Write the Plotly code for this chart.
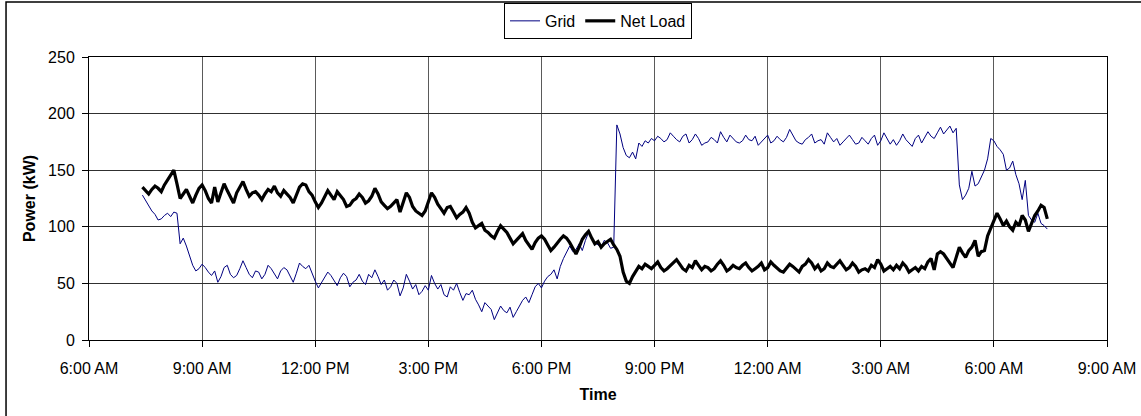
import pandas as pd
import plotly.graph_objects as go

# 5-minute readings, 7:25 AM through 7:15 AM the following morning
start_time = "2007-08-14 07:25"
interval = "5min"

grid_kw = [
    128, 123, 119, 114, 111, 106, 107, 110, 112, 109, 113, 112, 85, 90, 83, 74, 66, 61, 63, 67,
    64, 60, 57, 61, 51, 56, 64, 66, 58, 55, 57, 63, 70, 64, 58, 55, 61, 60, 54, 58,
    66, 63, 58, 54, 61, 64, 62, 57, 51, 59, 68, 65, 63, 66, 58, 52, 46, 51, 55, 60,
    57, 53, 48, 55, 59, 56, 47, 51, 53, 58, 52, 49, 58, 55, 62, 56, 49, 53, 44, 47,
    53, 50, 39, 46, 58, 52, 45, 49, 40, 43, 48, 44, 57, 50, 45, 49, 40, 38, 47, 44,
    50, 42, 35, 41, 40, 44, 36, 31, 25, 33, 30, 27, 18, 24, 30, 26, 24, 29, 20, 25,
    30, 35, 38, 33, 40, 47, 50, 46, 52, 56, 58, 62, 54, 65, 72, 77, 83, 78, 80, 85,
    79, 88, 95, 90, 86, 84, 82, 88, 86, 81, 82, 190, 182, 170, 163, 161, 166, 160, 174, 171,
    176, 174, 178, 176, 180, 178, 175, 177, 183, 180, 177, 175, 180, 182, 174, 177, 182, 178, 172, 174,
    175, 179, 177, 174, 184, 179, 175, 181, 178, 175, 174, 176, 181, 177, 176, 180, 172, 175, 178, 181,
    174, 176, 180, 177, 175, 179, 186, 181, 176, 174, 173, 177, 179, 182, 174, 176, 177, 173, 183, 179,
    175, 178, 172, 175, 178, 181, 177, 173, 174, 179, 176, 173, 178, 181, 172, 176, 183, 178, 173, 177,
    172, 176, 182, 177, 174, 171, 178, 181, 174, 179, 184, 180, 178, 183, 188, 182, 186, 189, 183, 187,
    137, 124, 128, 134, 149, 136, 138, 144, 150, 160, 178, 176, 171, 168, 164, 150, 152, 158, 146, 138,
    124, 141, 110, 106, 104, 112, 103, 101, 98,
]

net_load_kw = [
    135, 132, 129, 133, 136, 134, 131, 137, 141, 145, 150, 138, 125, 129, 133, 127, 121, 128, 134, 137,
    132, 125, 121, 135, 122, 130, 138, 132, 126, 121, 130, 135, 140, 133, 127, 130, 131, 128, 124, 129,
    133, 131, 136, 130, 127, 132, 129, 126, 121, 129, 135, 138, 137, 131, 128, 122, 117, 121, 126, 132,
    128, 124, 131, 127, 124, 118, 119, 123, 125, 129, 126, 121, 123, 127, 134, 129, 122, 119, 116, 118,
    121, 124, 113, 121, 130, 126, 118, 114, 112, 110, 114, 122, 130, 126, 120, 116, 112, 117, 118, 113,
    108, 111, 113, 117, 112, 104, 99, 101, 103, 97, 95, 92, 90, 96, 101, 98, 95, 90, 85, 88,
    91, 94, 88, 84, 80, 86, 90, 92, 89, 84, 79, 82, 86, 89, 92, 90, 86, 81, 76, 82,
    89, 93, 96, 90, 85, 87, 82, 85, 87, 89, 84, 80, 74, 60, 52, 50, 56, 61, 65, 63,
    67, 65, 63, 66, 69, 64, 61, 63, 66, 68, 71, 67, 63, 61, 66, 64, 70, 66, 62, 65,
    64, 61, 63, 67, 70, 66, 61, 63, 66, 64, 63, 66, 68, 64, 61, 63, 65, 68, 62, 64,
    69, 66, 63, 61, 60, 64, 67, 65, 62, 60, 65, 67, 71, 68, 63, 66, 61, 63, 68, 65,
    64, 67, 70, 66, 62, 64, 68, 65, 60, 62, 63, 61, 66, 64, 71, 67, 61, 63, 65, 62,
    66, 63, 68, 65, 60, 62, 64, 61, 65, 63, 69, 72, 62, 76, 78, 76, 72, 68, 64, 73,
    82, 77, 73, 79, 82, 88, 74, 78, 79, 92, 99, 105, 112, 107, 101, 105, 100, 97, 104, 101,
    110, 106, 96, 103, 110, 114, 119, 117, 107,
]

tick_times = [
    "2007-08-14 06:00", "2007-08-14 09:00", "2007-08-14 12:00",
    "2007-08-14 15:00", "2007-08-14 18:00", "2007-08-14 21:00",
    "2007-08-15 00:00", "2007-08-15 03:00", "2007-08-15 06:00",
    "2007-08-15 09:00",
]
tick_labels = [
    "6:00 AM", "9:00 AM", "12:00 PM", "3:00 PM", "6:00 PM",
    "9:00 PM", "12:00 AM", "3:00 AM", "6:00 AM", "9:00 AM",
]
power_ticks = [0, 50, 100, 150, 200, 250]

times = pd.date_range(start_time, periods=len(grid_kw), freq=interval)

FONT = "Liberation Sans, Arial, sans-serif"

fig = go.Figure()
fig.add_trace(go.Scatter(
    x=times, y=grid_kw, mode="lines", name="Grid",
    line=dict(color="#000080", width=1),
))
fig.add_trace(go.Scatter(
    x=times, y=net_load_kw, mode="lines", name="Net Load",
    line=dict(color="#000000", width=3.2),
))

fig.update_layout(
    width=1141, height=416,
    margin=dict(l=89, r=34, t=57, b=76, autoexpand=False),
    paper_bgcolor="white", plot_bgcolor="white",
    font=dict(family=FONT, size=16, color="#000000"),
    showlegend=True,
    legend=dict(
        orientation="h", x=0.5, xanchor="center", y=1.191, yanchor="top",
        bordercolor="#000000", borderwidth=1, bgcolor="white",
        font=dict(family=FONT, size=16, color="#000000"),
        itemwidth=30, tracegroupgap=0,
    ),
    xaxis=dict(
        range=[tick_times[0], tick_times[-1]],
        tickvals=tick_times, ticktext=tick_labels,
        showgrid=True, gridcolor="#5a5a5a", gridwidth=1,
        showline=True, linecolor="#000000", linewidth=1, mirror=True,
        ticks="outside", ticklen=6, tickcolor="#000000",
        ticklabelstandoff=8,
        tickfont=dict(family=FONT, size=16),
        title=dict(text="<b>Time</b>", font=dict(family=FONT, size=16), standoff=12),
        zeroline=False,
    ),
    yaxis=dict(
        range=[0, 250], tickvals=power_ticks,
        showgrid=True, gridcolor="#303030", gridwidth=1,
        showline=True, linecolor="#000000", linewidth=1, mirror=True,
        ticks="outside", ticklen=6, tickcolor="#000000",
        ticklabelstandoff=4,
        tickfont=dict(family=FONT, size=16),
        title=dict(text="<b>Power (kW)</b>", font=dict(family=FONT, size=16), standoff=8),
        zeroline=False,
    ),
    shapes=[dict(
        type="rect", xref="paper", yref="paper",
        x0=-0.0815, x1=1.2, y0=-0.4, y1=1.194,
        line=dict(color="#000000", width=1.5), fillcolor="rgba(0,0,0,0)",
        layer="below",
    )],
)

fig.write_html("out.html")
